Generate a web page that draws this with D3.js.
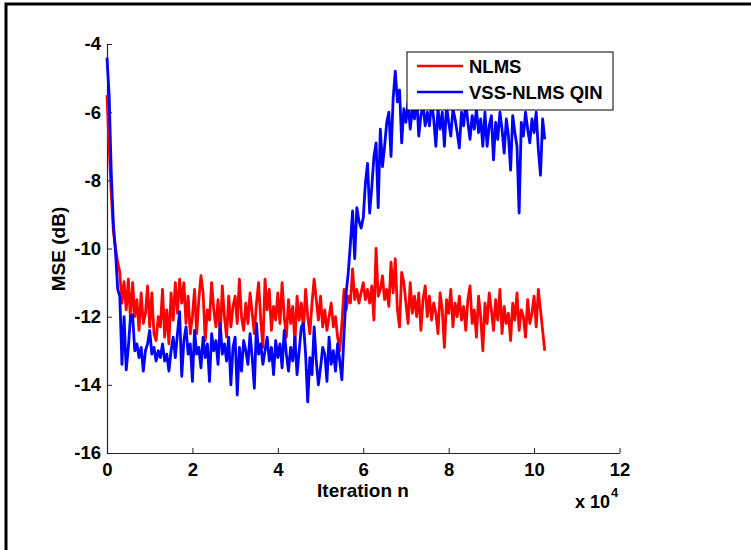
<!DOCTYPE html>
<html>
<head>
<meta charset="utf-8">
<script src="https://cdn.jsdelivr.net/npm/d3@7"></script>
<style>
  body { margin: 0; background: #fff; }
  text { font-family: Arial, "Liberation Sans", sans-serif; font-weight: bold; }
</style>
</head>
<body>
<div id="chart"></div>
<script>
// samples are 500 iterations apart (0.05 on the x10^4 axis)
var sampleStep = 0.05;

var xTicks = [0, 2, 4, 6, 8, 10, 12];
var yTicks = [-16, -14, -12, -10, -8, -6, -4];

var seriesNames = ["NLMS", "VSS-NLMS QIN"];
var seriesColors = ["#ff0000", "#0000ff"];

// MSE (dB) of NLMS
var nlmsMSE = [
  -5.5, -7.0, -8.4, -9.5, -10.0, -10.4, -10.7, -11.6, -10.97, -11.8,
  -10.9, -12.1, -11.0, -12.0, -11.5, -12.4, -11.3, -12.2, -11.9, -11.1,
  -12.3, -11.3, -12.5, -12.7, -12.0, -12.3, -11.2, -12.6, -11.8, -12.8,
  -11.3, -12.1, -11.0, -11.9, -10.9, -11.6, -11.0, -12.2, -11.4, -12.5,
  -12.0, -11.2, -12.5, -11.5, -10.8, -11.3, -12.7, -11.8, -12.1, -11.0,
  -11.8, -12.3, -11.5, -12.6, -11.1, -12.0, -12.6, -11.4, -12.3, -11.7,
  -11.4, -12.2, -10.9, -12.0, -12.4, -11.6, -12.2, -11.3, -11.9, -12.5,
  -11.6, -11.0, -12.1, -12.9, -10.9, -11.8, -11.2, -12.4, -11.7, -12.1,
  -11.3, -12.2, -11.0, -12.0, -12.6, -11.5, -12.2, -11.7, -12.8, -11.4,
  -12.1, -11.6, -12.4, -11.2, -12.0, -12.5, -11.6, -10.9, -11.5, -12.1,
  -11.4, -12.3, -11.8, -12.4, -12.0, -11.6, -12.3, -12.0, -12.6, -13.0,
  -12.2, -11.2, -11.8, -11.4, -11.6, -10.6, -11.5, -11.2, -11.6, -11.3,
  -11.0, -11.5, -11.2, -11.6, -11.1, -12.1, -10.0, -11.4, -11.2, -10.8,
  -11.5, -11.2, -11.7, -10.4, -11.3, -10.3, -11.8, -12.3, -10.7, -11.0,
  -11.6, -12.2, -11.0, -11.9, -11.4, -12.0, -11.3, -12.4, -11.5, -11.1,
  -12.0, -11.4, -12.1, -11.6, -11.9, -12.5, -11.3, -11.8, -12.9, -11.5,
  -11.9, -11.2, -12.3, -11.6, -12.0, -11.4, -12.1, -11.7, -12.4, -11.5,
  -11.1, -12.2, -11.8, -12.6, -11.4, -12.0, -13.0, -11.6, -12.2, -11.3,
  -11.8, -12.4, -11.5, -12.1, -11.2, -12.5, -11.7, -12.2, -11.9, -12.7,
  -11.6, -12.1, -11.3, -12.4, -11.8, -12.0, -12.6, -11.5, -12.2, -11.9,
  -11.4, -12.3, -11.2, -11.8, -12.4, -13.0
];

// MSE (dB) of VSS-NLMS QIN
var vssMSE = [
  -4.4, -5.5, -7.8, -9.3, -10.1, -11.2, -11.4, -13.4, -12.0, -13.56,
  -12.9, -12.0, -11.95, -13.0, -12.8, -13.2, -12.9, -13.6, -13.0, -12.8,
  -12.4, -13.1, -12.9, -13.3, -13.0, -13.2, -12.8, -13.3, -13.1, -13.6,
  -13.0, -12.6, -13.2, -12.5, -11.85, -13.75, -12.7, -12.3, -13.1, -12.8,
  -13.9, -12.4, -13.1, -12.9, -13.5, -12.6, -13.2, -12.8, -13.9, -12.5,
  -13.0, -12.7, -13.4, -12.2, -13.1, -12.8, -13.3, -12.6, -14.0, -12.9,
  -12.6, -14.3, -12.9, -13.6, -12.7, -13.0, -13.4, -12.5, -13.2, -14.1,
  -12.2, -13.1, -12.8, -13.4, -13.0, -12.6, -13.3, -12.9, -13.7, -12.7,
  -13.2, -12.8, -13.5, -12.4, -13.1, -13.6, -12.9, -13.3, -12.6, -13.7,
  -13.0, -12.3, -12.2, -13.1, -14.5, -13.2, -13.7, -12.3, -13.3, -14.0,
  -13.5, -12.9, -13.1, -13.9, -12.6, -13.4, -13.0, -13.6, -12.8, -13.3,
  -13.85, -12.5, -11.3, -10.7, -9.85, -8.9, -10.3, -8.8, -9.2, -9.4,
  -9.1, -8.1, -7.5, -8.96, -8.2, -7.3, -6.9, -8.8, -6.5, -7.6,
  -7.0, -6.3, -6.0, -7.3, -5.6, -4.8, -5.7, -5.35, -6.9, -5.9,
  -6.3, -5.7, -6.5, -5.9, -6.2, -5.5, -6.7, -6.1, -5.8, -6.4,
  -6.0, -6.4, -5.7, -6.2, -7.0, -5.9, -6.5, -6.0, -7.0, -5.8,
  -6.3, -6.7, -5.9, -6.2, -6.6, -7.05, -6.0, -6.4, -5.7, -6.3,
  -6.8, -6.1, -6.5, -5.9, -6.6, -6.2, -7.0, -6.0, -7.0, -6.4,
  -6.1, -7.4, -6.3, -6.8, -6.0, -6.5, -7.2, -6.2, -6.7, -7.7,
  -6.1, -6.6, -7.0, -8.96, -6.3, -6.7, -6.0, -6.5, -6.9, -6.2,
  -6.6, -6.0, -7.1, -7.85, -6.2, -6.8
];

var svgWidth = 751;
var svgHeight = 550;

var svg = d3.select("#chart")
  .append("svg")
  .attr("width", svgWidth)
  .attr("height", svgHeight);

svg.append("rect")
  .attr("width", svgWidth)
  .attr("height", svgHeight)
  .attr("fill", "#fff");

// outer figure frame (runs off the right and bottom edge)
svg.append("rect")
  .attr("x", 6)
  .attr("y", 4)
  .attr("width", 900)
  .attr("height", 700)
  .attr("fill", "none")
  .attr("stroke", "#000")
  .attr("stroke-width", 3);

var xScale = d3.scaleLinear().domain([0, 12]).range([107, 619.5]);
var yScale = d3.scaleLinear().domain([-16, -4]).range([453, 44]);

// plain hyphen for negatives, like the original figure
var plainFormat = function(d) { return String(d); };

// axes
var xAxis = d3.axisBottom(xScale)
  .tickValues(xTicks)
  .tickFormat(plainFormat)
  .tickSizeInner(-5)
  .tickSizeOuter(0)
  .tickPadding(10);

var yAxis = d3.axisLeft(yScale)
  .tickValues(yTicks)
  .tickFormat(plainFormat)
  .tickSizeInner(-5)
  .tickSizeOuter(0)
  .tickPadding(6);

var gx = svg.append("g")
  .attr("transform", "translate(0," + yScale(-16) + ")")
  .call(xAxis);

var gy = svg.append("g")
  .attr("transform", "translate(" + xScale(0) + ",0)")
  .call(yAxis);

[gx, gy].forEach(function(g) {
  g.select(".domain").attr("stroke", "#262626").attr("stroke-width", 1.2);
  g.selectAll(".tick line").attr("stroke", "#262626");
  g.selectAll(".tick text")
    .attr("fill", "#000")
    .style("font-size", "18.5px")
    .style("font-family", "Arial, 'Liberation Sans', sans-serif")
    .style("font-weight", "bold");
});

// data lines
var line = d3.line()
  .x(function(d, i) { return xScale(i * sampleStep); })
  .y(function(d) { return yScale(d); });

[nlmsMSE, vssMSE].forEach(function(values, k) {
  svg.append("path")
    .datum(values)
    .attr("fill", "none")
    .attr("stroke", seriesColors[k])
    .attr("stroke-width", 2.8)
    .attr("stroke-linejoin", "round")
    .attr("d", line);
});

// axis labels
svg.append("text")
  .attr("x", 363)
  .attr("y", 497)
  .attr("text-anchor", "middle")
  .style("font-size", "19px")
  .text("Iteration n");

svg.append("text")
  .attr("transform", "translate(65," + 249 + ") rotate(-90)")
  .attr("text-anchor", "middle")
  .style("font-size", "19px")
  .text("MSE (dB)");

var expo = svg.append("text")
  .attr("x", 575)
  .attr("y", 508)
  .style("font-size", "18px")
  .text("x 10");
expo.append("tspan")
  .attr("dx", 1)
  .attr("dy", -11)
  .style("font-size", "13px")
  .text("4");

// legend
var legend = svg.append("g");
legend.append("rect")
  .attr("x", 407)
  .attr("y", 52)
  .attr("width", 206)
  .attr("height", 58)
  .attr("fill", "#fff")
  .attr("stroke", "#000")
  .attr("stroke-width", 1);

seriesNames.forEach(function(name, k) {
  var ly = 66 + k * 26;
  legend.append("line")
    .attr("x1", 417).attr("x2", 463)
    .attr("y1", ly).attr("y2", ly)
    .attr("stroke", seriesColors[k])
    .attr("stroke-width", 2.6);
  legend.append("text")
    .attr("x", 469)
    .attr("y", ly + 7)
    .style("font-size", "18.5px")
    .text(name);
});
</script>
</body>
</html>
